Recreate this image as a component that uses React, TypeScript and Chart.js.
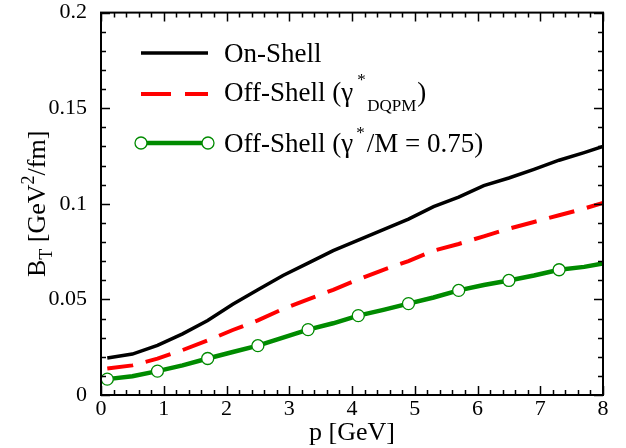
import React, { useEffect, useRef } from "react";
import { Chart, registerables } from "chart.js";

Chart.register(...registerables);

// momentum grid (GeV)
const pValues = [0.1, 0.5, 0.9, 1.3, 1.7, 2.1, 2.5, 2.9, 3.3, 3.7, 4.1, 4.5, 4.9, 5.3, 5.7, 6.1, 6.5, 6.9, 7.3, 7.7, 8.0];
// B_T [GeV^2/fm]
const onShell = [0.0194, 0.0214, 0.026, 0.032, 0.039, 0.0475, 0.055, 0.0625, 0.069, 0.0755, 0.081, 0.0865, 0.092, 0.0985, 0.1035, 0.1095, 0.1135, 0.118, 0.1228, 0.1268, 0.13];
const offShellDQPM = [0.0139, 0.0155, 0.019, 0.0235, 0.0285, 0.034, 0.039, 0.045, 0.05, 0.055, 0.0605, 0.0655, 0.07, 0.0755, 0.079, 0.083, 0.087, 0.0905, 0.094, 0.0975, 0.1005];
const offShell075 = [0.0083, 0.0098, 0.0125, 0.0155, 0.0191, 0.0225, 0.0258, 0.03, 0.0342, 0.0375, 0.0415, 0.0445, 0.0478, 0.051, 0.0547, 0.0575, 0.0599, 0.0625, 0.0655, 0.067, 0.0688];
// which points of the green curve carry an open-circle marker
const markerIdx = [0, 2, 4, 6, 8, 10, 12, 14, 16, 18];

const xTickLabels = ["0", "1", "2", "3", "4", "5", "6", "7", "8"];
const yTickLabels = ["0", "0.05", "0.1", "0.15", "0.2"];

const FONT = "'Liberation Serif', 'Times New Roman', serif";
const GREEN = "rgb(0,139,0)";
const LEG = 27;

type Part = { t: string; size: number; dy: number };

function drawRun(ctx: CanvasRenderingContext2D, x: number, y: number, parts: Part[]) {
  let cx = x;
  for (const p of parts) {
    ctx.font = `${p.size}px ${FONT}`;
    ctx.fillText(p.t, cx, y + p.dy);
    cx += ctx.measureText(p.t).width;
  }
  return cx;
}

const framePlugin = {
  id: "frameTicksLegend",
  afterDatasetsDraw(chart: any) {
    const ctx: CanvasRenderingContext2D = chart.ctx;
    const { left, right, top, bottom } = chart.chartArea;
    const xs = chart.scales.x;
    const ys = chart.scales.y;
    ctx.save();
    ctx.strokeStyle = "#000";
    // ticks
    ctx.lineWidth = 1.5;
    ctx.beginPath();
    for (let i = 0; i <= 40; i++) {
      const v = i * 0.2;
      const px = Math.round(xs.getPixelForValue(v)) + 0.5;
      const len = i % 5 === 0 ? 9 : 5;
      ctx.moveTo(px, bottom);
      ctx.lineTo(px, bottom - len);
      ctx.moveTo(px, top);
      ctx.lineTo(px, top + len);
    }
    for (let i = 0; i <= 20; i++) {
      const v = i * 0.01;
      const py = Math.round(ys.getPixelForValue(v)) + 0.5;
      const len = i % 5 === 0 ? 9 : 5;
      ctx.moveTo(left, py);
      ctx.lineTo(left + len, py);
      ctx.moveTo(right, py);
      ctx.lineTo(right - len, py);
    }
    ctx.stroke();
    // frame
    ctx.lineWidth = 2;
    ctx.strokeRect(left, top, right - left, bottom - top);

    // legend
    ctx.fillStyle = "#000";
    ctx.textAlign = "left";
    ctx.textBaseline = "alphabetic";
    const lx0 = 141, lx1 = 208, tx = 224;
    // row 1
    ctx.lineWidth = 3.5;
    ctx.strokeStyle = "#000";
    ctx.beginPath();
    ctx.moveTo(lx0, 53);
    ctx.lineTo(lx1, 53);
    ctx.stroke();
    drawRun(ctx, tx, 62, [{ t: "On-Shell", size: LEG, dy: 0 }]);
    // row 2
    ctx.strokeStyle = "#ff0000";
    ctx.lineWidth = 4;
    ctx.setLineDash([30, 14]);
    ctx.beginPath();
    ctx.moveTo(lx0, 94);
    ctx.lineTo(lx1, 94);
    ctx.stroke();
    ctx.setLineDash([]);
    const gx = drawRun(ctx, tx, 101, [{ t: "Off-Shell (γ", size: LEG, dy: 0 }]);
    drawRun(ctx, gx + 4, 101, [{ t: "*", size: 17, dy: -16 }]);
    const dx = drawRun(ctx, gx + 14, 101, [{ t: "DQPM", size: 17, dy: 10 }]);
    drawRun(ctx, dx + 1, 101, [{ t: ")", size: LEG, dy: 0 }]);
    // row 3
    ctx.strokeStyle = GREEN;
    ctx.lineWidth = 4.5;
    ctx.beginPath();
    ctx.moveTo(lx0, 143);
    ctx.lineTo(lx1, 143);
    ctx.stroke();
    ctx.lineWidth = 1.3;
    ctx.fillStyle = "#fff";
    for (const cx of [lx0, lx1]) {
      ctx.beginPath();
      ctx.arc(cx, 143, 6, 0, Math.PI * 2);
      ctx.fill();
      ctx.stroke();
    }
    ctx.fillStyle = "#000";
    const g3 = drawRun(ctx, tx, 152, [{ t: "Off-Shell (γ", size: LEG, dy: 0 }]);
    const s3 = drawRun(ctx, g3 + 3, 152, [{ t: "*", size: 17, dy: -14 }]);
    drawRun(ctx, s3 + 2, 152, [{ t: "/M = 0.75)", size: LEG, dy: 0 }]);

    // x axis title
    ctx.font = `26px ${FONT}`;
    ctx.textAlign = "center";
    ctx.fillText("p [GeV]", (left + right) / 2, 440);

    // y axis title (rotated)
    ctx.textAlign = "left";
    const yParts: Part[] = [
      { t: "B", size: 26, dy: 0 },
      { t: "T", size: 18, dy: 7 },
      { t: " [GeV", size: 26, dy: 0 },
      { t: "2", size: 18, dy: -11 },
      { t: "/fm]", size: 26, dy: 0 },
    ];
    let total = 0;
    for (const p of yParts) {
      ctx.font = `${p.size}px ${FONT}`;
      total += ctx.measureText(p.t).width;
    }
    ctx.translate(45, (top + bottom) / 2);
    ctx.rotate(-Math.PI / 2);
    drawRun(ctx, -total / 2, 0, yParts);
    ctx.restore();
  },
};

export default function App() {
  const ref = useRef<HTMLCanvasElement | null>(null);
  useEffect(() => {
    if (!ref.current) return;
    const mk = (ys: number[]) => pValues.map((x, i) => ({ x, y: ys[i] }));
    const chart = new Chart(ref.current, {
      type: "line",
      data: {
        datasets: [
          {
            label: "On-Shell",
            data: mk(onShell),
            borderColor: "#000",
            borderWidth: 3.5,
            pointRadius: 0,
            fill: false,
          },
          {
            label: "Off-Shell (γ*DQPM)",
            data: mk(offShellDQPM),
            borderColor: "#ff0000",
            borderWidth: 4,
            borderDash: [26, 13],
            pointRadius: 0,
            fill: false,
          },
          {
            label: "Off-Shell (γ*/M = 0.75)",
            data: mk(offShell075),
            borderColor: GREEN,
            borderWidth: 4.5,
            pointRadius: pValues.map((_, i) => (markerIdx.includes(i) ? 6 : 0)),
            pointBackgroundColor: "#fff",
            pointBorderColor: GREEN,
            pointBorderWidth: 1.3,
            fill: false,
          },
        ],
      },
      options: {
        responsive: false,
        animation: false,
        devicePixelRatio: 1,
        layout: { padding: { top: 10, right: 23, left: 0, bottom: 0 } },
        plugins: { legend: { display: false }, tooltip: { enabled: false } },
        scales: {
          x: {
            type: "linear",
            min: 0,
            max: 8,
            grid: { display: false },
            border: { display: false },
            ticks: {
              stepSize: 1,
              padding: 0,
              color: "#000",
              maxRotation: 0,
              font: { family: FONT, size: 22, lineHeight: 0.6 },
              callback: (_v: any, i: number) => xTickLabels[i],
            },
            afterFit: (s: any) => {
              s.height = 53;
            },
          },
          y: {
            type: "linear",
            min: 0,
            max: 0.2,
            grid: { display: false },
            border: { display: false },
            ticks: {
              stepSize: 0.05,
              padding: 6,
              color: "#000",
              font: { family: FONT, size: 22, lineHeight: 0.6 },
              callback: (_v: any, i: number) => yTickLabels[i],
            },
            afterFit: (s: any) => {
              s.width = 101;
            },
          },
        },
      },
      plugins: [framePlugin],
    } as any);
    return () => chart.destroy();
  }, []);
  return (
    <div style={{ position: "absolute", left: 0, top: 0, width: 626, height: 448, background: "#fff" }}>
      <canvas ref={ref} width={626} height={448} />
    </div>
  );
}
